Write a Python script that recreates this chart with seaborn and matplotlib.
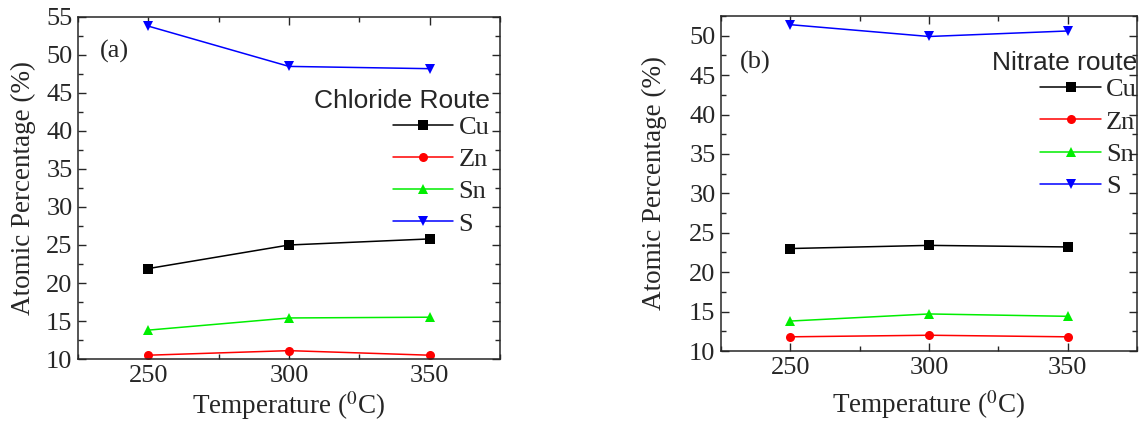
import pandas as pd
import seaborn as sns
import matplotlib.pyplot as plt
from matplotlib.ticker import MultipleLocator

# data
temperature = [250, 300, 350]
elements = ["Cu", "Zn", "Sn", "S"]

chloride_cu = [21.9, 25.0, 25.8]
chloride_zn = [10.5, 11.1, 10.5]
chloride_sn = [13.8, 15.4, 15.5]
chloride_s = [53.8, 48.5, 48.2]

nitrate_cu = [23.0, 23.4, 23.2]
nitrate_zn = [11.8, 12.0, 11.8]
nitrate_sn = [13.8, 14.7, 14.4]
nitrate_s = [51.4, 49.9, 50.6]


def to_long(cu, zn, sn, s):
    rows = []
    for name, vals in zip(elements, [cu, zn, sn, s]):
        for t, v in zip(temperature, vals):
            rows.append({"Temperature": t, "Element": name, "Atomic": v})
    return pd.DataFrame(rows)


df_a = to_long(chloride_cu, chloride_zn, chloride_sn, chloride_s)
df_b = to_long(nitrate_cu, nitrate_zn, nitrate_sn, nitrate_s)

sns.set_style("ticks")
plt.rcParams["font.family"] = ["Liberation Serif", "DejaVu Serif"]
plt.rcParams["mathtext.fontset"] = "stix"

palette = {"Cu": "#000000", "Zn": "#ff0000", "Sn": "#00ee00", "S": "#0000ff"}
markers = {"Cu": "s", "Zn": "o", "Sn": "^", "S": "v"}

fig = plt.figure(figsize=(11.39, 4.28), dpi=100)
ax_a = fig.add_axes([78 / 1139, 1 - 359 / 428, 422 / 1139, 342 / 428])
ax_b = fig.add_axes([721 / 1139, 1 - 351 / 428, 416 / 1139, 335 / 428])


def draw(ax, df, ylim, title, label, bbox, label_pos, xpad, ypad):
    sns.lineplot(data=df, x="Temperature", y="Atomic", hue="Element", style="Element",
                 palette=palette, markers=markers, dashes=False, markersize=6.5,
                 markeredgewidth=0, linewidth=1.1, ax=ax)
    ax.set_xlim(225, 375)
    ax.set_ylim(*ylim)
    ax.set_xticks(temperature)
    ax.xaxis.set_minor_locator(MultipleLocator(25))
    ax.yaxis.set_major_locator(MultipleLocator(5))
    ax.yaxis.set_minor_locator(MultipleLocator(2.5))
    ax.tick_params(which="both", direction="in", top=True, right=True, labelsize=19, width=1)
    ax.tick_params(which="major", length=6, pad=4)
    ax.tick_params(which="minor", length=3.5)
    for sp in ax.spines.values():
        sp.set_linewidth(1.1)
    ax.set_xlabel(r"Temperature ($^0$C)", fontsize=19.5, labelpad=xpad)
    ax.set_ylabel("Atomic Percentage (%)", fontsize=19.5, labelpad=ypad)
    ax.text(label_pos[0], label_pos[1], label, transform=ax.transAxes, fontsize=19,
            ha="left", va="center")
    handles, labels = ax.get_legend_handles_labels()
    leg = ax.legend(handles, labels, title=title, loc="upper right", bbox_to_anchor=bbox,
                    frameon=False, fontsize=19, handlelength=2.3, handletextpad=0.2,
                    labelspacing=0.33, borderaxespad=0, alignment="right",
                    borderpad=0,
                    title_fontproperties={"family": "Liberation Sans", "size": 19})
    # tighten the gap between the legend title and the first entry
    leg._legend_box.sep = 2
    return leg


draw(ax_a, df_a, (10, 55), "Chloride Route", "(a)", (0.975, 0.79), (0.052, 0.90), 2, 7)
draw(ax_b, df_b, (10, 52.5), "Nitrate route", "(b)", (1.0, 0.895), (0.046, 0.86), 7, 16)

fig.savefig("out.png", dpi=100)
